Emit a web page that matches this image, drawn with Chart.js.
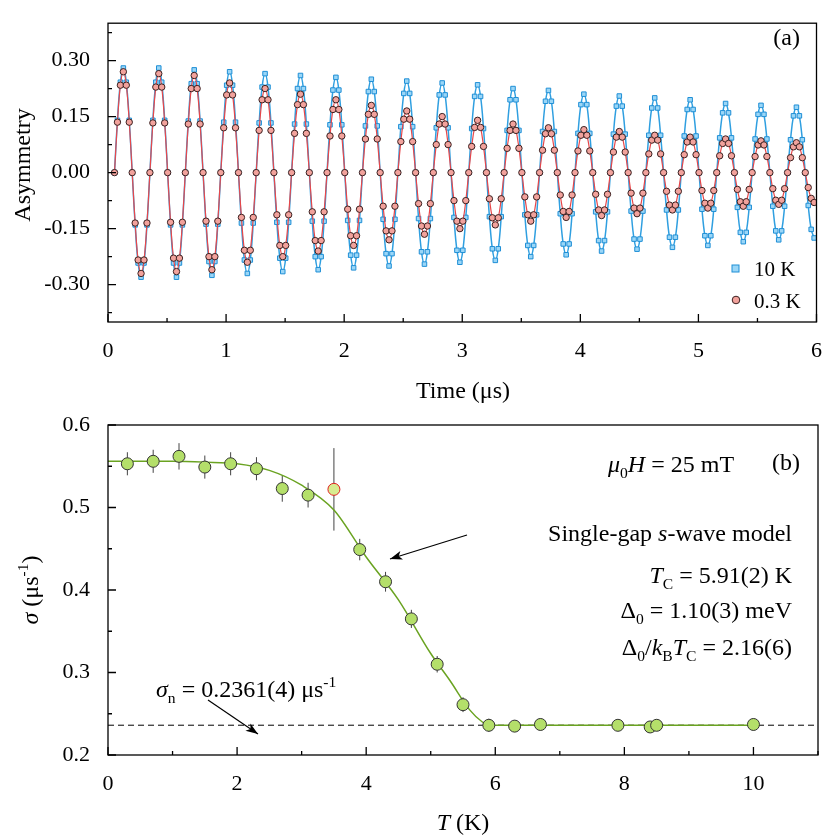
<!DOCTYPE html>
<html><head><meta charset="utf-8">
<script src="https://cdn.jsdelivr.net/npm/chart.js@4/dist/chart.umd.min.js"></script>
<style>
body{margin:0;background:#fff;width:830px;height:837px;overflow:hidden}
canvas{position:absolute;left:0;top:0}
</style></head><body>
<canvas id="ca" width="830" height="837" style="width:830px;height:837px"></canvas>
<canvas id="cb" width="830" height="837" style="width:830px;height:837px"></canvas>
<script>
// ---------- Panel (a) data ----------
const timeStart = 0.055, timeStep = 0.025;
const asym10K = [
0,.14,.242,.28,.242,.14,0,-.14,-.242,-.28,-.242,-.14,
0,.14,.242,.28,.242,.14,0,-.14,-.242,-.28,-.242,-.14,
0,.138,.238,.275,.238,.138,0,-.138,-.238,-.275,-.238,-.138,
0,.135,.234,.27,.234,.135,0,-.135,-.234,-.27,-.234,-.135,
0,.133,.229,.265,.229,.133,0,-.133,-.229,-.265,-.229,-.133,
0,.13,.225,.26,.225,.13,0,-.13,-.225,-.26,-.225,-.13,
0,.128,.221,.255,.221,.128,0,-.128,-.221,-.255,-.221,-.128,
0,.125,.217,.25,.217,.125,0,-.125,-.217,-.25,-.217,-.125,
0,.123,.212,.245,.212,.123,0,-.123,-.212,-.245,-.212,-.123,
0,.12,.208,.24,.208,.12,0,-.12,-.208,-.24,-.208,-.12,
0,.118,.204,.235,.204,.118,0,-.118,-.204,-.235,-.204,-.118,
0,.113,.195,.225,.195,.113,0,-.113,-.195,-.225,-.195,-.113,
0,.11,.191,.22,.191,.11,0,-.11,-.191,-.22,-.191,-.11,
0,.105,.182,.21,.182,.105,0,-.105,-.182,-.21,-.182,-.105,
0,.103,.178,.205,.178,.103,0,-.103,-.178,-.205,-.178,-.103,
0,.1,.173,.2,.173,.1,0,-.1,-.173,-.2,-.173,-.1,
0,.098,.169,.195,.169,.098,0,-.098,-.169,-.195,-.169,-.098,
0,.093,.16,.185,.16,.093,0,-.093,-.16,-.185,-.16,-.093,
0,.09,.156,.18,.156,.09,0,-.09,-.156,-.18,-.156,-.09,
0,.088,.152,.175,.152,.088,0,-.088,-.152,-.175];
const asym03K = [
0,.135,.234,.27,.234,.135,0,-.135,-.234,-.27,-.234,-.135,
0,.133,.229,.265,.229,.133,0,-.133,-.229,-.265,-.229,-.133,
0,.13,.225,.26,.225,.13,0,-.13,-.225,-.26,-.225,-.13,
0,.12,.208,.24,.208,.12,0,-.12,-.208,-.24,-.208,-.12,
0,.113,.195,.225,.195,.113,0,-.113,-.195,-.225,-.195,-.113,
0,.105,.182,.21,.182,.105,0,-.105,-.182,-.21,-.182,-.105,
0,.098,.169,.195,.169,.098,0,-.098,-.169,-.195,-.169,-.098,
0,.09,.156,.18,.156,.09,0,-.09,-.156,-.18,-.156,-.09,
0,.083,.143,.165,.143,.083,0,-.083,-.143,-.165,-.143,-.083,
0,.075,.13,.15,.13,.075,0,-.075,-.13,-.15,-.13,-.075,
0,.07,.121,.14,.121,.07,0,-.07,-.121,-.14,-.121,-.07,
0,.065,.113,.13,.113,.065,0,-.065,-.113,-.13,-.113,-.065,
0,.06,.104,.12,.104,.06,0,-.06,-.104,-.12,-.104,-.06,
0,.058,.1,.115,.1,.058,0,-.058,-.1,-.115,-.1,-.058,
0,.055,.095,.11,.095,.055,0,-.055,-.095,-.11,-.095,-.055,
0,.05,.087,.1,.087,.05,0,-.05,-.087,-.1,-.087,-.05,
0,.048,.082,.095,.082,.048,0,-.048,-.082,-.095,-.082,-.048,
0,.045,.078,.09,.078,.045,0,-.045,-.078,-.09,-.078,-.045,
0,.043,.074,.085,.074,.043,0,-.043,-.074,-.085,-.074,-.043,
0,.04,.069,.08,.069,.04,0,-.04,-.069,-.08];
const yTicksA = [-0.3,-0.15,0,0.15,0.3];

// ---------- Panel (b) data ----------
const tempK = [0.3,0.7,1.1,1.5,1.9,2.3,2.7,3.1,3.5,3.9,4.3,4.7,5.1,5.5,5.9,6.3,6.7,7.9,8.4,8.5,10];
const sigma = [0.553,0.556,0.562,0.549,0.553,0.547,0.523,0.515,0.522,0.449,0.41,0.365,0.31,0.261,0.236,0.235,0.237,0.236,0.234,0.236,0.237];
const sigmaErr = [0.014,0.014,0.016,0.014,0.014,0.014,0.016,0.015,0.05,0.013,0.012,0.011,0.01,0.009,0.008,0.007,0.007,0.007,0.007,0.007,0.007];
const fitT = [0,0.5,1,1.5,2,2.5,3,3.5,4,4.5,5,5.3,5.6,5.8,5.91,7,8,9,10];
const fitSigma = [0.556,0.556,0.556,0.555,0.553,0.545,0.527,0.497,0.44,0.388,0.323,0.29,0.255,0.24,0.2361,0.2361,0.2361,0.2361,0.2361];
const sigmaN = 0.2361;
const outlierIndex = 8;

const SERIF = '"Liberation Serif","DejaVu Serif",serif';

function rich(ctx,x,y,segs,size,align){
  const f=(s)=>{const sz=(s.sub||s.sup)?size*0.65:size;return (s.i?'italic ':'')+sz+'px '+SERIF;};
  let w=0; segs.forEach(s=>{ctx.font=f(s);s.w=ctx.measureText(s.t).width;w+=s.w;});
  let cx = align==='right'?x-w:align==='center'?x-w/2:x;
  ctx.textAlign='left';ctx.textBaseline='alphabetic';ctx.fillStyle='#000';
  segs.forEach(s=>{ctx.font=f(s);const dy=s.sub?size*0.25:s.sup?-size*0.4:0;ctx.fillText(s.t,cx,y+dy);cx+=s.w;});
}
function arrow(ctx,x1,y1,x2,y2){
  ctx.save();ctx.strokeStyle='#000';ctx.fillStyle='#000';ctx.lineWidth=1.2;
  ctx.beginPath();ctx.moveTo(x1,y1);ctx.lineTo(x2,y2);ctx.stroke();
  const a=Math.atan2(y2-y1,x2-x1),L=13,W=0.35;
  ctx.beginPath();ctx.moveTo(x2,y2);ctx.lineTo(x2-L*Math.cos(a-W),y2-L*Math.sin(a-W));
  ctx.lineTo(x2-L*0.7*Math.cos(a),y2-L*0.7*Math.sin(a));
  ctx.lineTo(x2-L*Math.cos(a+W),y2-L*Math.sin(a+W));ctx.closePath();ctx.fill();ctx.restore();
}
function frame(chart,xMinor,yMinor){
  const ctx=chart.ctx,a=chart.chartArea,xs=chart.scales.x,ys=chart.scales.y;
  ctx.save();ctx.strokeStyle='#000';ctx.lineWidth=1.3;
  ctx.strokeRect(a.left,a.top,a.right-a.left,a.bottom-a.top);
  ctx.beginPath();
  for(let v=xs.min;v<=xs.max+1e-9;v+=xMinor){const p=xs.getPixelForValue(v);const maj=xs.ticks.some(t=>Math.abs(t.value-v)<1e-6);const L=maj?8:4;ctx.moveTo(p,a.bottom);ctx.lineTo(p,a.bottom-L);}
  for(let v=Math.ceil(ys.min/yMinor-1e-6)*yMinor;v<=ys.max+1e-9;v+=yMinor){const p=ys.getPixelForValue(v);const maj=ys.ticks.some(t=>Math.abs(t.value-v)<1e-6);const L=maj?8:4;ctx.moveTo(a.left,p);ctx.lineTo(a.left+L,p);}
  ctx.stroke();ctx.restore();
}
const tickFont={family:SERIF,size:22};

const timePts = asym10K.map((v,i)=>timeStart+timeStep*i);
new Chart(document.getElementById('ca'),{
  type:'line',
  data:{datasets:[
    {data:asym03K.map((v,i)=>({x:timePts[i],y:v})),borderColor:'#e8474a',borderWidth:1.2,backgroundColor:'#f2a29c',pointBorderColor:'#3a2020',pointBorderWidth:1,pointRadius:3.2,pointStyle:'circle',tension:0.4,order:1},
    {data:asym10K.map((v,i)=>({x:timePts[i],y:v})),borderColor:'#2f9fe0',borderWidth:1.5,backgroundColor:'#9ad6f7',pointBorderColor:'#1f8fd6',pointBorderWidth:1,pointRadius:3.2,pointStyle:'rect',tension:0.4,order:2}
  ]},
  options:{animation:false,responsive:false,devicePixelRatio:1,
    layout:{padding:{left:0,right:12,top:5,bottom:437}},
    plugins:{legend:{display:false},tooltip:{enabled:false}},
    scales:{
      x:{type:'linear',min:0,max:6,grid:{display:false},border:{display:false},
        ticks:{stepSize:1,font:tickFont,color:'#000',padding:8},afterFit:s=>{s.height=78;}},
      y:{min:-0.4,max:0.4,grid:{display:false},border:{display:false},
        afterBuildTicks:s=>{s.ticks=yTicksA.map(v=>({value:v}));},
        ticks:{font:tickFont,color:'#000',padding:10,callback:v=>v.toFixed(2)},afterFit:s=>{s.width=108;}}
    }},
  plugins:[{id:'fa',afterDraw(c){
    const ctx=c.ctx;frame(c,0.5,0.075);
    rich(ctx,800,45,[{t:'(a)'}],24,'right');
    rich(ctx,463,398,[{t:'Time (μs)'}],24,'center');
    ctx.save();ctx.translate(30,165);ctx.rotate(-Math.PI/2);rich(ctx,0,0,[{t:'Asymmetry'}],24,'center');ctx.restore();
    ctx.save();ctx.fillStyle='#9ad6f7';ctx.strokeStyle='#1f8fd6';ctx.lineWidth=1;
    ctx.fillRect(732,265,7,7);ctx.strokeRect(732,265,7,7);
    ctx.fillStyle='#f2a29c';ctx.strokeStyle='#3a2020';ctx.beginPath();ctx.arc(736,300,3.8,0,7);ctx.fill();ctx.stroke();ctx.restore();
    rich(ctx,754,276,[{t:'10 K'}],21,'left');
    rich(ctx,754,308,[{t:'0.3 K'}],21,'left');
  }}]
});

new Chart(document.getElementById('cb'),{
  type:'scatter',
  data:{datasets:[
    {data:tempK.map((t,i)=>({x:t,y:sigma[i]})),pointRadius:6,pointBorderWidth:1,
      backgroundColor:tempK.map((t,i)=>i===outlierIndex?'#d8ec90':'#b4df6a'),
      pointBorderColor:tempK.map((t,i)=>i===outlierIndex?'#e02020':'#333'),showLine:false,order:1},
    {data:fitT.map((t,i)=>({x:t,y:fitSigma[i]})),showLine:true,borderColor:'#6aa321',borderWidth:1.5,pointRadius:0,cubicInterpolationMode:'monotone',order:2},
    {data:[{x:0,y:sigmaN},{x:11,y:sigmaN}],showLine:true,borderColor:'#000',borderWidth:1,borderDash:[6,4],pointRadius:0,order:3}
  ]},
  options:{animation:false,responsive:false,devicePixelRatio:1,
    layout:{padding:{left:0,right:12,top:425,bottom:0}},
    plugins:{legend:{display:false},tooltip:{enabled:false}},
    scales:{
      x:{type:'linear',min:0,max:11,grid:{display:false},border:{display:false},
        afterBuildTicks:s=>{s.ticks=[0,2,4,6,8,10].map(v=>({value:v}));},
        ticks:{font:tickFont,color:'#000',padding:8},afterFit:s=>{s.height=82;}},
      y:{min:0.2,max:0.6,grid:{display:false},border:{display:false},
        ticks:{stepSize:0.1,font:tickFont,color:'#000',padding:10,callback:v=>v.toFixed(1)},afterFit:s=>{s.width=108;}}
    }},
  plugins:[{id:'eb',beforeDatasetsDraw(c){
    const ctx=c.ctx,xs=c.scales.x,ys=c.scales.y;ctx.save();ctx.strokeStyle='#444';ctx.lineWidth=1;ctx.beginPath();
    tempK.forEach((t,i)=>{const x=xs.getPixelForValue(t);ctx.moveTo(x,ys.getPixelForValue(sigma[i]+sigmaErr[i]));ctx.lineTo(x,ys.getPixelForValue(sigma[i]-sigmaErr[i]));});
    ctx.stroke();ctx.restore();
  },afterDraw(c){
    const ctx=c.ctx;frame(c,1,0.05);
    rich(ctx,800,470,[{t:'(b)'}],24,'right');
    rich(ctx,608,472,[{t:'μ',i:1},{t:'0',sub:1},{t:'H',i:1},{t:' = 25 mT'}],24,'left');
    rich(ctx,792,541,[{t:'Single-gap '},{t:'s',i:1},{t:'-wave model'}],24,'right');
    rich(ctx,792,583,[{t:'T',i:1},{t:'C',sub:1},{t:' = 5.91(2) K'}],24,'right');
    rich(ctx,792,618,[{t:'Δ'},{t:'0',sub:1},{t:' = 1.10(3) meV'}],24,'right');
    rich(ctx,792,655,[{t:'Δ'},{t:'0',sub:1},{t:'/'},{t:'k',i:1},{t:'B',sub:1},{t:'T',i:1},{t:'C',sub:1},{t:' = 2.16(6)'}],24,'right');
    rich(ctx,156,697,[{t:'σ',i:1},{t:'n',sub:1},{t:' = 0.2361(4) μs'},{t:'-1',sup:1}],24,'left');
    arrow(ctx,467,535,390,559);
    arrow(ctx,208,700,258,734);
    rich(ctx,463,830,[{t:'T',i:1},{t:' (K)'}],24,'center');
    ctx.save();ctx.translate(38,590);ctx.rotate(-Math.PI/2);rich(ctx,0,0,[{t:'σ',i:1},{t:' (μs'},{t:'-1',sup:1},{t:')'}],24,'center');ctx.restore();
  }}]
});
</script></body></html>
